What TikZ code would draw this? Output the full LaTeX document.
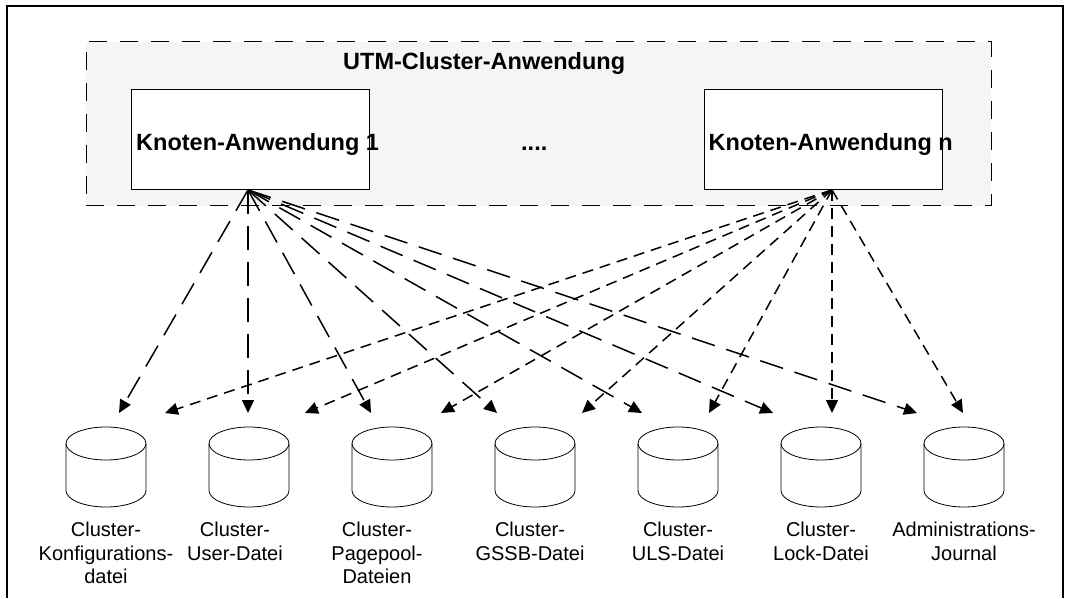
\documentclass[tikz,border=0pt]{standalone}
\usepackage{fontspec}
\setmainfont{Liberation Sans}
\usetikzlibrary{arrows.meta}
\definecolor{panelgray}{RGB}{245,245,245}

\begin{document}
\begin{tikzpicture}[x=1pt,y=1pt,
    appbox/.style={draw,fill=white,line width=0.8pt,minimum width=238pt,minimum height=100pt,inner sep=0pt},
    boldtext/.style={font=\fontsize{23.5}{28}\selectfont\bfseries,inner sep=0pt,anchor=base west},
    dbtext/.style={font=\fontsize{20}{23.5}\selectfont,align=center,inner sep=0pt,anchor=base},
    fromone/.style={line width=1.5pt,dash pattern=on 24pt off 12pt,-{Triangle[length=13pt,width=12pt]}},
    fromn/.style={line width=1.5pt,dash pattern=on 11pt off 7pt,-{Triangle[length=13pt,width=12pt]}}]
    \useasboundingbox (0,0) rectangle (1068,598);
    \draw[line width=1.2pt] (7,0) -- (7,592) -- (1063,592) -- (1063,0);
    \node[draw,fill=panelgray,line width=1pt,dash pattern=on 18pt off 13pt,minimum width=905pt,minimum height=164pt] (cluster) at (538.5,474) {};
    \node[boldtext] (title) at (343,528) {UTM-Cluster-Anwendung};
    \node[appbox] (k1) at (250,458.5) {};
    \node[appbox] (kn) at (823,458.5) {};
    \node[boldtext] (k1text) at (136,447.3) {Knoten-Anwendung 1};
    \node[boldtext] (kntext) at (708.5,447.3) {Knoten-Anwendung n};
    \node[boldtext] (dots) at (521,447.3) {....};
    % Dateien (y = Grundlinie der letzten Zeile)
    \foreach \i/\lx/\ly/\txt in {1/106/14.3/{Cluster-\\Konfigurations-\\datei},2/235/37.8/{Cluster-\\User-Datei},
        3/377/14.3/{Cluster-\\Pagepool-\\Dateien},4/530/37.8/{Cluster-\\GSSB-Datei},5/678/37.8/{Cluster-\\ULS-Datei},
        6/821/37.8/{Cluster-\\Lock-Datei},7/964/37.8/{Administrations-\\Journal}} {
        \pgfmathsetmacro\cx{106+143*(\i-1)}
        \draw[line width=0.8pt,fill=white] (\cx,154.5) ellipse [x radius=40,y radius=16.5];
        \draw[line width=0.8pt] (\cx-40,154.5) -- (\cx-40,107.5) arc[start angle=180,end angle=360,x radius=40,y radius=16.5] -- (\cx+40,154.5);
        \node[dbtext] (file\i) at (\lx,\ly) {\txt};
    }
    % Pfeilspitzen
    \foreach \n/\x in {a1/119,a2/248,a3/371,a4/497,a5/642,a6/773,a7/917,
        b1/165,b2/305,b3/441,b4/582,b5/709,b6/832,b7/963}
        \coordinate (\n) at (\x,185);
    \foreach \i in {1,...,7} \draw[fromone] (k1.south -| a2) -- (a\i);
    \foreach \i in {1,...,7} \draw[fromn] (kn.south -| b6) -- (b\i);
\end{tikzpicture}
\end{document}
